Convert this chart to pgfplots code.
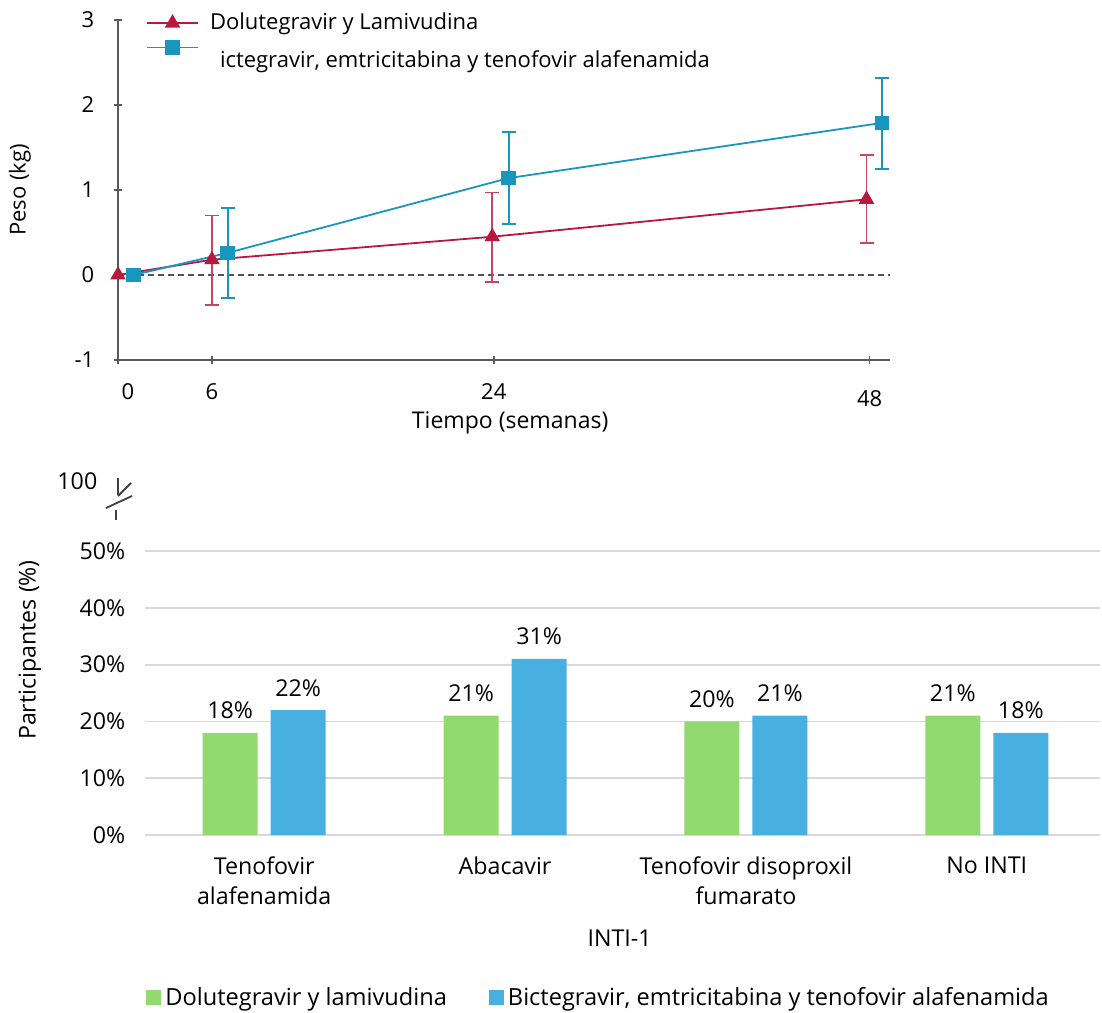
\documentclass[border=0pt]{standalone}
\usepackage{pgfplots}
\pgfplotsset{compat=1.18}
\usepackage{fontspec}
\setmainfont{Open Sans}
\definecolor{cred}{RGB}{185,25,60}
\definecolor{credl}{RGB}{200,70,90}
\definecolor{cblue}{RGB}{25,150,190}
\definecolor{cgreen}{RGB}{146,217,112}
\definecolor{cbar}{RGB}{72,176,224}
\definecolor{cgrid}{RGB}{217,217,217}
\definecolor{caxis}{RGB}{90,90,90}
\begin{document}
\fontsize{11}{13}\selectfont
\begin{tikzpicture}
\useasboundingbox (0,0) rectangle (551pt,506pt);
% ---------- top chart ----------
\begin{axis}[
  at={(59pt,326pt)}, anchor=south west,
  scale only axis, width=386pt, height=170pt,
  xmin=0, xmax=49.3, ymin=-1, ymax=3,
  axis x line=bottom, axis y line=left,
  axis line style={-, draw=caxis, line width=1pt},
  xtick={0,6,24,48}, ytick={-1,0,1,2,3},
  xticklabels={\hspace{10pt}0, 6, 24, \raisebox{-3.5pt}[\height]{48}},
  tick style={draw=caxis, line width=0.8pt},
  major tick length=4pt,
  tick align=center,
  /pgf/number format/assume math mode=true,
  ticklabel style={font=\fontsize{11}{13}\selectfont},
  yticklabel style={xshift=-6pt},
  xticklabel style={yshift=-6pt},
  xlabel={Tiempo (semanas)},
  xlabel style={at={(axis description cs:0.508,0)}, anchor=center, yshift=-31.5pt, font=\fontsize{11.5}{13}\selectfont},
  ylabel={Peso (kg)},
  ylabel style={at={(axis description cs:-0.127,0.5)}, anchor=center, font=\fontsize{11}{13}\selectfont},
  legend style={at={(0.028,1.045)}, anchor=north west, draw=none, fill=none,
    font=\fontsize{11}{13}\selectfont, row sep=2pt, cells={anchor=west}},
  legend image code/.code={\draw[mark repeat=2,mark phase=2,#1] plot coordinates {(0cm,0cm)(0.45cm,0cm)(0.9cm,0cm)};},
  clip=false,
]
\addplot[forget plot, densely dashed, dash pattern=on 3pt off 2pt, color=caxis!90!blue, line width=0.9pt] coordinates {(0,0) (49.3,0)};
\addplot[color=cred, line width=0.9pt, mark=triangle*, mark size=3.6pt, mark options={solid, fill=cred},
  error bars/.cd, y dir=both, y explicit,
  error bar style={color=credl, line width=0.9pt},
  error mark options={rotate=90, mark size=3.5pt, line width=0.9pt, color=credl}]
  coordinates {
  (0,0)
  (6,0.18) += (0,0.52) -= (0,0.53)
  (23.9,0.45) += (0,0.52) -= (0,0.53)
  (47.8,0.89) += (0,0.52) -= (0,0.51)
  };
\addlegendentry{\hspace{3.5pt}Dolutegravir y Lamivudina}
\addplot[color=cblue, line width=0.9pt, mark=square*, mark size=3.2pt, mark options={solid, fill=cblue},
  error bars/.cd, y dir=both, y explicit,
  error bar style={color=cblue, line width=0.9pt},
  error mark options={rotate=90, mark size=3.5pt, line width=0.9pt, color=cblue}]
  coordinates {
  (1,0)
  (7,0.26) += (0,0.53) -= (0,0.53)
  (24.95,1.14) += (0,0.54) -= (0,0.54)
  (48.8,1.79) += (0,0.53) -= (0,0.54)
  };
\addlegendentry{\hspace{8.5pt}\raisebox{-11pt}{ictegravir, emtricitabina y tenofovir alafenamida}}
\end{axis}
% ---------- bottom chart ----------
\begin{axis}[
  at={(72.5pt,88.5pt)}, anchor=south west,
  scale only axis, width=477.5pt, height=177.5pt,
  xmin=-0.495, xmax=3.47, ymin=0, ymax=62.5,
  axis line style={draw=none},
  ybar, bar width=27.5pt,
  ymajorgrids, grid style={cgrid, line width=0.9pt},
  /pgf/number format/assume math mode=true,
  ytick={0,10,20,30,40,50},
  yticklabels={0\%,10\%,20\%,30\%,40\%,50\%},
  extra y ticks={62.3}, extra y tick labels={100},
  extra y tick style={grid=none, yticklabel style={xshift=-14pt}},
  major tick length=0pt,
  xtick={0,1,2,3},
  xticklabels={Tenofovir\\alafenamida, Abacavir, Tenofovir disoproxil\\fumarato, No INTI},
  xticklabel style={align=center, anchor=north, yshift=-7pt, font=\fontsize{11.6}{15}\selectfont},
  yticklabel style={xshift=-6pt},
  ticklabel style={font=\fontsize{11.6}{15}\selectfont},
  xlabel={INTI-1},
  xlabel style={at={(axis description cs:0.497,0)}, anchor=center, yshift=-51.5pt, font=\fontsize{11.6}{14}\selectfont},
  ylabel={Participantes (\%)},
  ylabel style={at={(axis description cs:-0.1204,0.521)}, anchor=center, font=\fontsize{11.6}{14}\selectfont},
  nodes near coords={\pgfmathprintnumber{\pgfplotspointmeta}\%},
  every node near coord/.append style={font=\fontsize{11.6}{14}\selectfont, anchor=south, yshift=3pt},
  legend style={at={(0.476,-0.459)}, anchor=center, draw=none, fill=none,
    legend columns=2, font=\fontsize{11.8}{14}\selectfont,
    /tikz/every even column/.append style={column sep=19pt}},
  legend image code/.code={\fill[#1] (0pt,-3.75pt) rectangle (7.5pt,3.75pt);},
  clip=false,
]
\addplot[fill=cgreen, draw=none, bar shift=-17pt] coordinates {(0,18) (1,21) (2,20) (3,21)};
\addlegendentry{Dolutegravir y lamivudina}
\addplot[fill=cbar, draw=none, bar shift=17pt] coordinates {(0,22) (1,31) (2,21) (3,18)};
\addlegendentry{Bictegravir, emtricitabina y tenofovir alafenamida}
\end{axis}
% axis break marks
\draw[black!75, line width=0.9pt] (59pt,267pt) -- (59pt,258.5pt);
\draw[black!75, line width=0.9pt] (59pt,258pt) -- (65.5pt,264.5pt);
\draw[black!75, line width=0.9pt] (53pt,252pt) -- (66pt,258pt);
\draw[black!75, line width=0.9pt] (58pt,251pt) -- (58pt,246pt);
\end{tikzpicture}
\end{document}
